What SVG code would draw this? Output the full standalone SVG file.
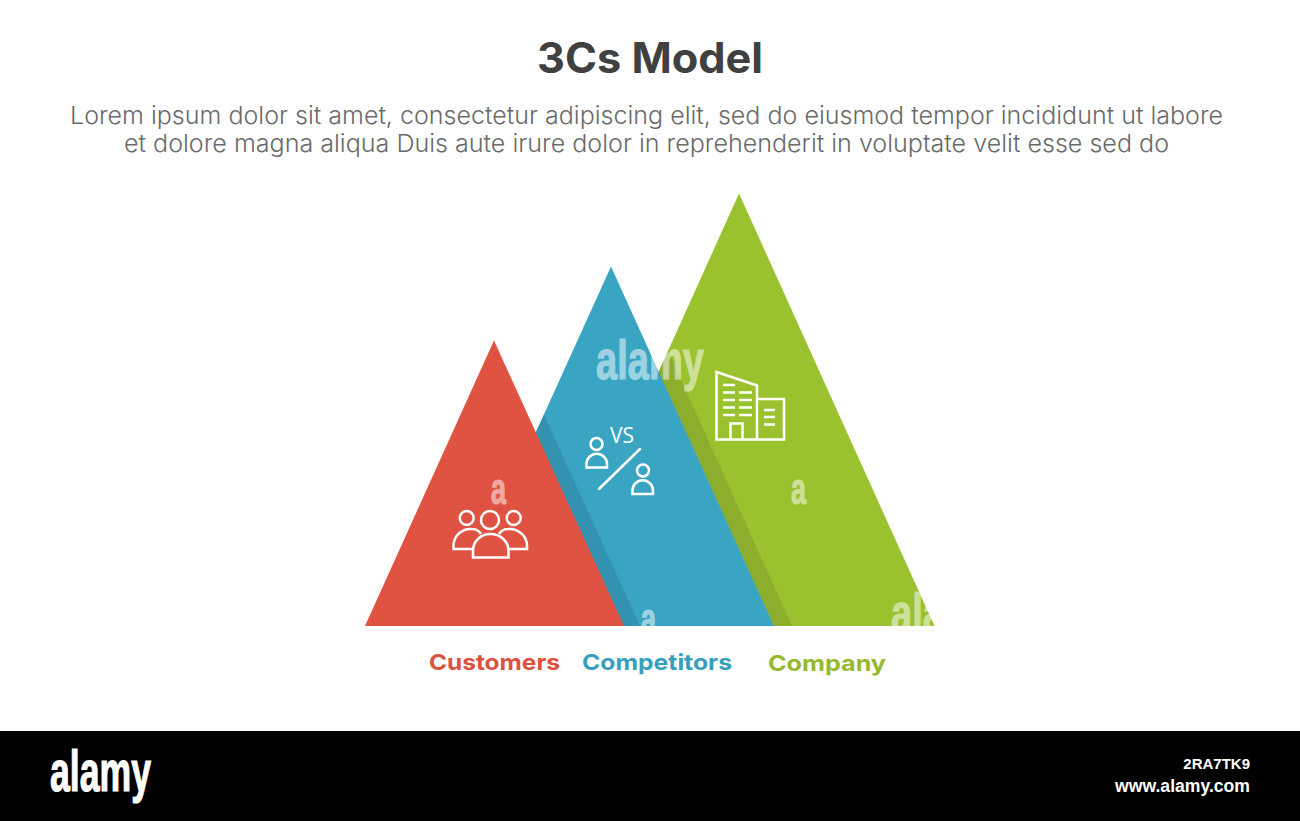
<svg xmlns="http://www.w3.org/2000/svg" width="1300" height="821" viewBox="0 0 1300 821">
<style>
.ic{fill:none;stroke:#fff;stroke-width:2.5;stroke-linejoin:miter}
.lb{font-family:"Inter","Liberation Sans",sans-serif;font-weight:700;font-size:22px}
.sub{font-family:"Inter","Lato","Liberation Sans",sans-serif;font-weight:300;font-size:24px;fill:#6a6a6a}
.wm{font-family:"Liberation Sans Narrow","Liberation Sans",sans-serif;font-weight:700;fill:#fff;stroke:#fff;stroke-width:1.2;opacity:.5}
</style>
<rect width="1300" height="821" fill="#fff"/>
<g id="header">
<text x="650" y="73" text-anchor="middle" textLength="226" lengthAdjust="spacingAndGlyphs" font-family="Inter,'Liberation Sans',sans-serif" font-weight="700" font-size="42" fill="#404040">3Cs Model</text>
<text class="sub" x="70" y="124" textLength="1153" lengthAdjust="spacingAndGlyphs">Lorem ipsum dolor sit amet, consectetur adipiscing elit, sed do eiusmod tempor incididunt ut labore</text>
<text class="sub" x="124" y="152" textLength="1045" lengthAdjust="spacingAndGlyphs">et dolore magna aliqua Duis aute irure dolor in reprehenderit in voluptate velit esse sed do</text>
</g>
<g id="company">
<polygon points="739,193.500 934.500,626 544,626" fill="#9ac12e"/>
<polygon points="658.700,372 668,351 792,626 774,626" fill="#8cae2c"/>
<g class="ic">
<path d="M716.500 439.500V372L757 385.500V439.500ZM757 399H784V439.500H757M730.500 439.500V423.500H742.500V439.500"/>
<path d="M723 385H735M723 392.500H735M723 400H735M723 407.500H735M723 415H735M739 392.500H752M739 400H752M739 407.500H752M739 415H752M764 410H775M764 417H775M764 424.500H775"/>
</g>
<text class="lb" x="768" y="671" textLength="118" lengthAdjust="spacingAndGlyphs" fill="#96b92f">Company</text>
</g>
<g id="competitors">
<polygon points="611,266.500 774,626 448,626" fill="#39a5c3"/>
<polygon points="535.800,432.600 544,414.700 640,626 624,626" fill="#3392b0"/>
<g class="ic">
<circle cx="596.500" cy="444" r="6"/>
<path d="M586.500 467.500V464A10 10 0 0 1 607 464V467.500Z"/>
<circle cx="643" cy="470.500" r="6"/>
<path d="M632.500 494V490.500A10 10 0 0 1 653 490.500V494Z"/>
<path d="M599 489L640 449" stroke-linecap="round"/>
</g>
<text x="622" y="443" text-anchor="middle" font-family="'Open Sans','Liberation Sans',sans-serif" font-size="21" fill="#fff">VS</text>
<text class="lb" x="582" y="670" textLength="150" lengthAdjust="spacingAndGlyphs" fill="#379fbe">Competitors</text>
</g>
<g id="customers">
<polygon points="494,340.500 624,626 365,626" fill="#e05241"/>
<g class="ic">
<circle cx="466.700" cy="518" r="7"/>
<circle cx="490" cy="520" r="9"/>
<circle cx="513.700" cy="518" r="7"/>
<path d="M473.500 549H453.500V546C453.500 535 463 528 472 529C476 529 479 531 481 534M499 534C501 531 504 529 508 529C517 528 527 535 527 546V549H507"/>
<path d="M473 557.500V551C473 541 481 534 490.500 534C500 534 508.500 541 508.500 551V557.500Z"/>
</g>
<text class="lb" x="429" y="670" textLength="131" lengthAdjust="spacingAndGlyphs" fill="#de5040">Customers</text>
</g>
<g id="watermark">
<text class="wm" x="596" y="379" font-size="56" textLength="108" lengthAdjust="spacingAndGlyphs">alamy</text>
<text class="wm" x="491" y="504" font-size="44" textLength="15" lengthAdjust="spacingAndGlyphs">a</text>
<text class="wm" x="791" y="504" font-size="44" textLength="15" lengthAdjust="spacingAndGlyphs">a</text>
<text class="wm" x="641" y="634" font-size="44" textLength="15" lengthAdjust="spacingAndGlyphs">a</text>
<text class="wm" x="891" y="632" font-size="56" textLength="108" lengthAdjust="spacingAndGlyphs">alamy</text>
</g>
<g id="footer">
<rect y="731" width="1300" height="90" fill="#000"/>
<text x="50" y="791" font-family="'Liberation Sans Narrow','Liberation Sans',sans-serif" font-weight="700" font-size="58" textLength="101" lengthAdjust="spacingAndGlyphs" fill="#fff" stroke="#fff" stroke-width="1.2">alamy</text>
<text x="1250" y="769" text-anchor="end" font-family="'Liberation Sans',sans-serif" font-size="15" fill="#fff" font-weight="700">2RA7TK9</text>
<text x="1250" y="792" text-anchor="end" font-family="'Liberation Sans',sans-serif" font-size="17.600" fill="#fff" font-weight="700">www.alamy.com</text>
</g>
</svg>
